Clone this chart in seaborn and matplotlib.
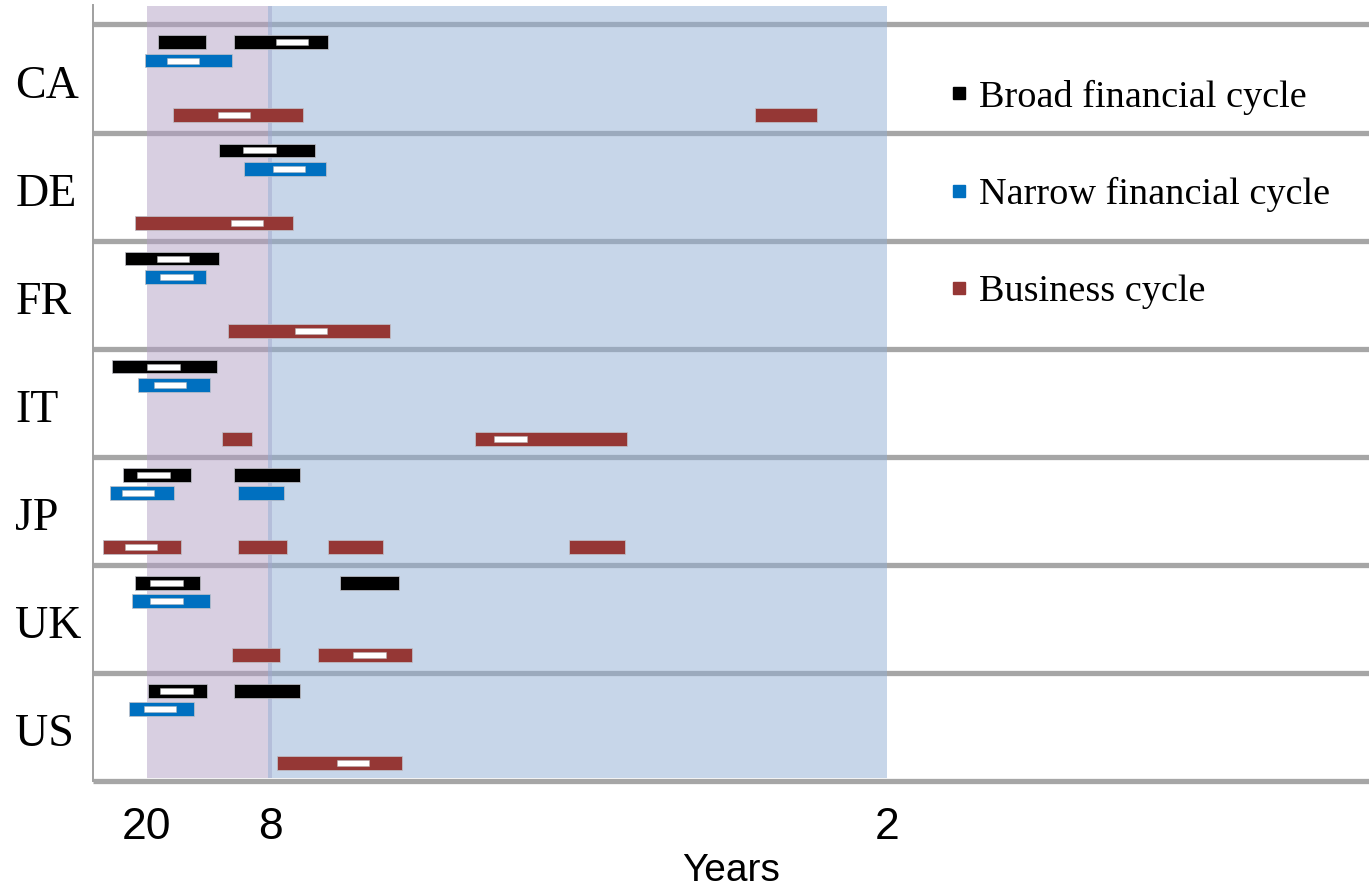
import matplotlib
matplotlib.use("Agg")
import matplotlib.pyplot as plt
from matplotlib.lines import Line2D
import pandas as pd
import seaborn as sns

# Countries (top to bottom) and the three cycle types
countries = ["CA", "DE", "FR", "IT", "JP", "UK", "US"]
series = ["Broad financial cycle", "Narrow financial cycle", "Business cycle"]
series_colors = ["#000000", "#0070C0", "#953735"]

# Frequency bands (cycles per year) where each cycle is significant
band_country = ["CA", "CA", "CA", "CA", "CA",
                "DE", "DE", "DE",
                "FR", "FR", "FR",
                "IT", "IT", "IT", "IT",
                "JP", "JP", "JP", "JP", "JP", "JP", "JP", "JP",
                "UK", "UK", "UK", "UK", "UK",
                "US", "US", "US", "US"]
band_series = [0, 0, 1, 2, 2,
               0, 1, 2,
               0, 1, 2,
               0, 1, 2, 2,
               0, 0, 1, 1, 2, 2, 2, 2,
               0, 0, 1, 2, 2,
               0, 0, 1, 2]
band_lo = [0.0567, 0.1033, 0.0490, 0.0662, 0.4196,
           0.0938, 0.1094, 0.0427,
           0.0370, 0.0490, 0.0994,
           0.0291, 0.0449, 0.0956, 0.2498,
           0.0354, 0.1033, 0.0277, 0.1055, 0.0236, 0.1055, 0.1601, 0.3065,
           0.0427, 0.1677, 0.0411, 0.1017, 0.1543,
           0.0506, 0.1033, 0.0395, 0.1292]
band_hi = [0.0863, 0.1604, 0.1021, 0.1452, 0.4577,
           0.1525, 0.1588, 0.1391,
           0.0942, 0.0863, 0.1979,
           0.0926, 0.0887, 0.1139, 0.3422,
           0.0768, 0.1430, 0.0666, 0.1335, 0.0707, 0.1351, 0.1939, 0.3406,
           0.0824, 0.2036, 0.0887, 0.1312, 0.2115,
           0.0865, 0.1430, 0.0786, 0.2052]

# Spectral peaks (cycles per year)
peak_country = ["CA", "CA", "CA", "DE", "DE", "DE", "FR", "FR", "FR",
                "IT", "IT", "IT", "JP", "JP", "JP", "UK", "UK", "UK",
                "US", "US", "US"]
peak_series = [0, 1, 2, 0, 1, 2, 0, 1, 2,
               0, 1, 2, 0, 1, 2, 0, 1, 2,
               0, 1, 2]
peak_freq = [0.1383, 0.0721, 0.1030, 0.1186, 0.1364, 0.1109, 0.0659, 0.0681, 0.1500,
             0.0602, 0.0642, 0.2712, 0.0542, 0.0446, 0.0464, 0.0621, 0.0621, 0.1855,
             0.0681, 0.0581, 0.1753]

# Period ticks (years) shown on the frequency axis
tick_years = [20, 8, 2]

bands = pd.DataFrame({"country": band_country, "series": band_series,
                      "lo": band_lo, "hi": band_hi})
peaks = pd.DataFrame({"country": peak_country, "series": peak_series,
                      "freq": peak_freq})

sns.set_theme(style="white")
plt.rcParams["font.family"] = ["Liberation Serif", "DejaVu Serif"]
plt.rcParams["text.color"] = "black"
plt.rcParams["axes.labelcolor"] = "black"
plt.rcParams["xtick.color"] = "black"
plt.rcParams["ytick.color"] = "black"

fig = plt.figure(figsize=(13.69, 8.86), dpi=100)
ax = fig.add_axes([0.0676, 0.1185, 0.9324, 0.8759])

row_offset = [0.166, 0.335, 0.835]
bar_h = 0.127
peak_w = 0.0197
peak_h = 0.055

xmin, xmax = 0.0171, 0.793
ax.set_xlim(xmin, xmax)
ax.set_ylim(7, -0.18)

# Horizontal separators between countries
ax.hlines(range(len(countries) + 1), xmin, xmax, colors="#a6a6a6",
          linewidth=3.8, zorder=1, clip_on=False)

# Shaded period ranges: 20-8 years and 8-2 years
ax.axvspan(1 / 20, 1 / 8 + 0.001, ymin=0.004, ymax=0.9987,
           color="#b3a0c5", alpha=0.5, lw=0, zorder=2)
ax.axvspan(1 / 8 - 0.001, 1 / 2, ymin=0.004, ymax=0.9987,
           color="#91afd5", alpha=0.5, lw=0, zorder=2)

cidx = {c: i for i, c in enumerate(countries)}

for _, r in bands.iterrows():
    y = cidx[r["country"]] + row_offset[r["series"]]
    ax.barh(y, r["hi"] - r["lo"], left=r["lo"], height=bar_h,
            color=series_colors[r["series"]], edgecolor=(0.75, 0.75, 0.78, 0.9),
            linewidth=0.6, zorder=3)

for _, r in peaks.iterrows():
    y = cidx[r["country"]] + row_offset[r["series"]]
    ax.barh(y, peak_w, left=r["freq"] - peak_w / 2, height=peak_h,
            color="white", edgecolor=(0.7, 0.7, 0.7, 0.8),
            linewidth=0.4, zorder=4)

# Country labels
ax.set_yticks([i + 0.53 for i in range(len(countries))])
ax.set_yticklabels(countries, fontsize=33, family="Liberation Serif", ha="left")
ax.tick_params(axis="y", length=0, pad=55.5)

# Period ticks
ax.set_xticks([1 / p for p in tick_years])
ax.set_xticklabels([str(p) for p in tick_years], fontsize=32,
                   family="Liberation Sans")
ax.tick_params(axis="x", length=0, pad=19)
ax.set_xlabel("Years", fontsize=28, family="Liberation Sans", labelpad=3)

for side in ["top", "right", "bottom"]:
    ax.spines[side].set_visible(False)
ax.spines["left"].set_color("#a0a0a0")
ax.spines["left"].set_linewidth(1.4)
ax.spines["left"].set_zorder(5)

handles = [Line2D([], [], marker="s", ls="", color=c, markersize=8.6)
           for c in series_colors]
ax.legend(handles, series, loc="upper left", bbox_to_anchor=(0.6714, 0.904),
          frameon=False, fontsize=27.5, handlelength=0.5, handletextpad=0.274,
          labelspacing=1.63, borderaxespad=0, borderpad=0)

fig.savefig("out.png", dpi=100)
